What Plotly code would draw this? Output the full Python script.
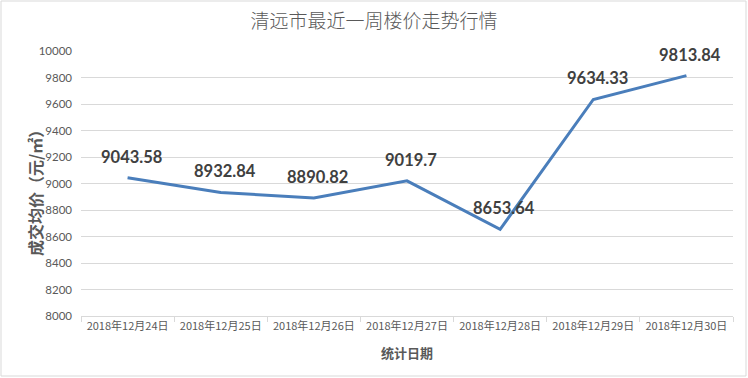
import plotly.graph_objects as go

dates = ["2018年12月24日", "2018年12月25日", "2018年12月26日", "2018年12月27日",
         "2018年12月28日", "2018年12月29日", "2018年12月30日"]
prices = [9043.58, 8932.84, 8890.82, 9019.7, 8653.64, 9634.33, 9813.84]
price_labels = ["9043.58", "8932.84", "8890.82", "9019.7", "8653.64", "9634.33", "9813.84"]
y_ticks = [8000, 8200, 8400, 8600, 8800, 9000, 9200, 9400, 9600, 9800, 10000]
y_tick_text = [str(v) for v in y_ticks]

font_cjk = "Noto Sans CJK SC"
grey = "#595959"
PW, PH = 652, 265  # plot area size in px

fig = go.Figure()
fig.add_trace(go.Scatter(
    x=dates, y=prices, mode="lines",
    line=dict(color="#4A7EBB", width=3),
    hoverinfo="x+y", showlegend=False,
))

for d, p, t in zip(dates, prices, price_labels):
    fig.add_annotation(
        x=d, y=p, text="<b>%s</b>" % t, showarrow=False, yshift=21, xshift=4,
        font=dict(family="Lato, " + font_cjk, size=16.5, color="#404040"),
    )

fig.add_annotation(
    xref="paper", yref="paper", x=(35 - 81) / PW, y=(316 - 189) / PH, textangle=-90,
    text="<b>成交均价（元/㎡）</b>", showarrow=False, xanchor="center", yanchor="middle",
    font=dict(family=font_cjk, size=16, color=grey),
)
fig.add_annotation(
    xref="paper", yref="paper", x=0.5, y=(316 - 352) / PH,
    text="<b>统计日期</b>", showarrow=False, xanchor="center", yanchor="middle",
    font=dict(family=font_cjk, size=13, color=grey),
)

fig.update_layout(
    width=748, height=378,
    margin=dict(l=81, r=15, t=51, b=62, autoexpand=False),
    paper_bgcolor="white", plot_bgcolor="white",
    title=dict(text="清远市最近一周楼价走势行情", x=0.5, xanchor="center",
               y=1 - 21 / 378, yanchor="middle",
               font=dict(family=font_cjk, size=19, weight=300, color=grey)),
    xaxis=dict(
        type="category", showgrid=False, showline=True, linecolor="#d9d9d9",
        ticks="outside", tickson="boundaries", ticklen=5, tickcolor="#d9d9d9",
        tickfont=dict(family=font_cjk, size=11, color=grey),
        range=[-0.5, 6.5], fixedrange=True, automargin=False,
    ),
    yaxis=dict(
        range=[8000, 10000], tickvals=y_ticks, ticktext=y_tick_text,
        showgrid=True, gridcolor="#d9d9d9",
        gridwidth=1, zeroline=False, showline=False, ticks="",
        tickfont=dict(family="Lato, " + font_cjk, size=11.5, color=grey),
        ticklabelstandoff=8, automargin=False, fixedrange=True,
    ),
    shapes=[dict(type="rect", xref="paper", yref="paper",
                 x0=-80 / PW, x1=1 + 13 / PW, y0=-60 / PH, y1=1 + 50 / PH,
                 line=dict(color="#d9d9d9", width=1), fillcolor="rgba(0,0,0,0)",
                 layer="below")],
)

fig.write_html("out.html", post_script="document.body.style.margin='0';",
               config={"displayModeBar": False})
